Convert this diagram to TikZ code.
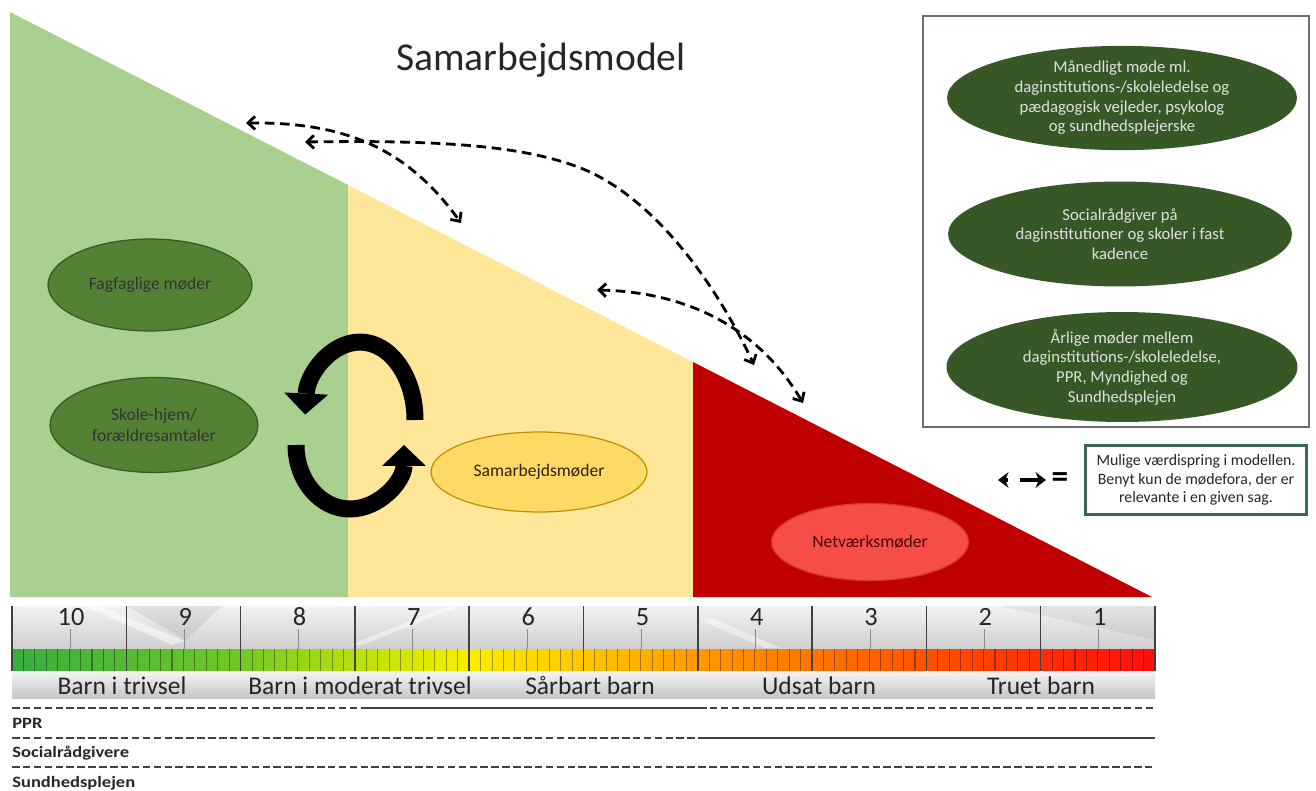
\documentclass[tikz,border=0pt]{standalone}
\usepackage{fontspec}
\setmainfont{Carlito}
\newfontfamily\rolefont[FakeStretch=1.17]{Carlito}
\usetikzlibrary{arrows.meta,shapes.geometric,positioning}

\definecolor{trivgreen}{RGB}{169,208,142}
\definecolor{modyellow}{RGB}{255,230,153}
\definecolor{udsatred}{RGB}{192,0,0}
\definecolor{leafgreen}{RGB}{84,130,53}
\definecolor{darkleaf}{RGB}{56,87,35}
\definecolor{pinegreen}{RGB}{55,88,38}
\definecolor{goldfill}{RGB}{255,217,102}
\definecolor{goldline}{RGB}{191,144,0}
\definecolor{netfill}{RGB}{245,78,72}
\definecolor{netline}{RGB}{215,55,50}
\definecolor{tealline}{RGB}{55,105,90}
\definecolor{framegray}{RGB}{105,112,105}
\definecolor{rulegray}{RGB}{65,65,65}

\pgfdeclarehorizontalshading{trivselbar}{100bp}{rgb(0bp)=(0.22,0.68,0.25); rgb(25bp)=(0.22,0.68,0.25); rgb(35bp)=(0.45,0.78,0.15); rgb(40bp)=(0.72,0.88,0.05); rgb(45bp)=(0.98,0.93,0); rgb(50bp)=(1,0.78,0); rgb(55bp)=(1,0.6,0); rgb(65bp)=(1,0.32,0); rgb(75bp)=(1,0.05,0.05); rgb(100bp)=(1,0.05,0.05)}

\begin{document}
\begin{tikzpicture}[x=0.02cm, y=-0.02cm,
  lowmeet/.style={ellipse, inner sep=0pt, align=center, line width=0.7pt, font=\fontsize{10}{12}\selectfont},
  boxmeet/.style={ellipse, fill=pinegreen, text=white!88!black, inner sep=0pt, align=center, font=\fontsize{9.5}{11.2}\selectfont},
  jump/.style={line width=1.6pt, dash pattern=on 5.5pt off 3.2pt, {Straight Barb[length=4pt,width=7.5pt]}-{Straight Barb[length=4pt,width=7.5pt]}},
  cycarrow/.style={line width=0.34cm, -{Triangle[length=0.42cm,width=0.88cm,line width=0pt]}},
  legtip/.style={line width=1.8pt},
  roledash/.style={rulegray, line width=1.5pt, dash pattern=on 4.3pt off 1.9pt},
  rolesolid/.style={rulegray, line width=1.5pt},
  rolelabel/.style={anchor=west, inner sep=0pt, text=black!85, font=\rolefont\bfseries\fontsize{9}{11}\selectfont}]
\useasboundingbox (0,0) rectangle (1316,791);
% Levels triangle
\fill[trivgreen] (10,12) -- (348,185) -- (348,597) -- (10,597) -- cycle;
\fill[modyellow] (348,185) -- (693,362) -- (693,597) -- (348,597) -- cycle;
\fill[udsatred] (693,362) -- (1152,597) -- (693,597) -- cycle;
\node[text=black!85, font=\fontsize{22.5}{26}\selectfont] (titel) at (541,60) {Samarbejdsmodel};
% Meetings per level
\node[lowmeet, draw=darkleaf, fill=leafgreen, text=black!80, minimum width=4.08cm, minimum height=1.84cm] (fagmoede) at (150,285) {Fagfaglige møder};
\node[lowmeet, draw=darkleaf, fill=leafgreen, text=black!80, minimum width=4.16cm, minimum height=1.9cm] (skolehjem) at (154,425) {Skole-hjem/\\forældresamtaler};
\node[lowmeet, draw=goldline, fill=goldfill, text=black!75!brown, minimum width=4.32cm, minimum height=1.6cm] (samarbejde) at (539,472) {Samarbejdsmøder};
\node[lowmeet, draw=netline, fill=netfill, text=black!70!red, minimum width=3.94cm, minimum height=1.54cm] (netvaerk) at (870,542) {Netværksmøder};
% Cycle arrows
\draw[cycarrow] (415,420) arc[start angle=0, end angle=176, x radius=1.1cm, y radius=1.56cm];
\draw[cycarrow] (296,445) arc[start angle=180, end angle=360, x radius=1.08cm, y radius=1.28cm];
% Jumps in the model
\coordinate (hop1a) at (246,123);
\coordinate (hop1b) at (461,223);
\coordinate (hop2a) at (305,142);
\coordinate (hop2b) at (754,365);
\coordinate (hop3a) at (597,290);
\coordinate (hop3b) at (803,403);
\draw[jump] (hop1a) .. controls (340,122) and (405,145) .. (hop1b);
\draw[jump] (hop2a) .. controls (440,140) and (530,145) .. (590,172) .. controls (660,205) and (718,288) .. (hop2b);
\draw[jump] (hop3a) .. controls (690,292) and (760,330) .. (hop3b);
% Recurring meetings
\draw[framegray, line width=1.2pt] (923,16) rectangle (1309,427);
\node[boxmeet, minimum width=7cm, minimum height=2.06cm] (maanedlig) at (1122,98) {Månedligt møde ml.\\daginstitutions-/skoleledelse og\\pædagogisk vejleder, psykolog\\og sundhedsplejerske};
\node[boxmeet, minimum width=6.88cm, minimum height=2.1cm] (socialraad) at (1120,234) {Socialrådgiver på\\daginstitutioner og skoler i fast\\kadence};
\node[boxmeet, minimum width=7.02cm, minimum height=2.2cm] (aarlige) at (1122,367) {Årlige møder mellem\\daginstitutions-/skoleledelse,\\PPR, Myndighed og\\Sundhedsplejen};
% Legend
\node[draw=tealline, line width=1.2pt, fill=white, align=center, minimum width=4.42cm, minimum height=1.38cm, inner sep=1pt, text=black!85, font=\fontsize{9}{10.5}\selectfont] (legende) at (1196,480) {Mulige værdispring i modellen.\\Benyt kun de mødefora, der er\\relevante i en given sag.};
\node[left=9pt of legende, inner sep=0pt, font=\bfseries\fontsize{19}{19}\selectfont] (lig) {=};
\coordinate (leg1a) at (998,480);
\coordinate (leg1b) at (1008,480);
\coordinate (leg2a) at (1020,480);
\coordinate (leg2b) at (1046,480);
\draw[legtip, {Stealth[length=6pt,width=9pt]}-] (leg1a) -- (leg1b);
\draw[legtip, -{Stealth[length=6pt,width=9pt]}] (leg2a) -- (leg2b);
% Scale from 10 to 1
\shade[top color=gray!10, bottom color=gray!38] (12,606) rectangle (1155,649);
\fill[white, opacity=0.55] (85,606) -- (100,606) -- (185,641) -- (172,645) -- cycle;
\fill[black, opacity=0.07] (127,606) -- (222,606) -- (186,640) -- cycle;
\fill[white, opacity=0.5] (350,645) -- (362,645) -- (460,606) -- (448,606) -- cycle;
\fill[white, opacity=0.45] (700,620) -- (712,618) -- (780,648) -- (765,648) -- cycle;
\fill[black, opacity=0.06] (1000,606) -- (1155,606) -- (1155,640) -- cycle;
\shade[shading=trivselbar] (12,649) rectangle (1155,671);
\foreach \t in {0,...,100}
  \draw[black, opacity=0.35, line width=0.6pt] ({12+11.43*\t},649) -- ({12+11.43*\t},671);
\shade[top color=gray!8, bottom color=gray!45] (12,671) rectangle (1155,698);
\foreach \k in {0,...,10}
  \draw[black!75, line width=0.9pt] ({12+114.3*\k},606) -- ({12+114.3*\k},671);
\foreach \n [count=\k from 0] in {10,9,...,1} {
  \node[text=black!85, inner sep=0pt, font=\fontsize{15}{18}\selectfont] (num\n) at ({71+114.3*\k},617) {\n};
  \draw[black!45, line width=0.5pt] ({70+114.3*\k},629) -- ({70+114.3*\k},649);
}
\foreach \txt/\xc [count=\i] in {Barn i trivsel/122, Barn i moderat trivsel/360, Sårbart barn/590, Udsat barn/819, Truet barn/1041}
  \node[text=black!85, inner sep=0pt, font=\fontsize{14.5}{17}\selectfont] (band\i) at (\xc,686) {\txt};
% Roles below the scale
\draw[roledash] (12,708) -- (361,708);
\draw[rolesolid] (361,708) -- (699,708);
\draw[roledash] (699,708) -- (1155,708);
\draw[roledash] (12,738) -- (699,738);
\draw[rolesolid] (699,738) -- (1155,738);
\draw[roledash] (12,767) -- (1155,767);
\node[rolelabel] (ppr) at (12,723) {PPR};
\node[rolelabel] (social) at (12,753) {Socialrådgivere};
\node[rolelabel] (sundhed) at (12,783) {Sundhedsplejen};
\end{tikzpicture}
\end{document}
